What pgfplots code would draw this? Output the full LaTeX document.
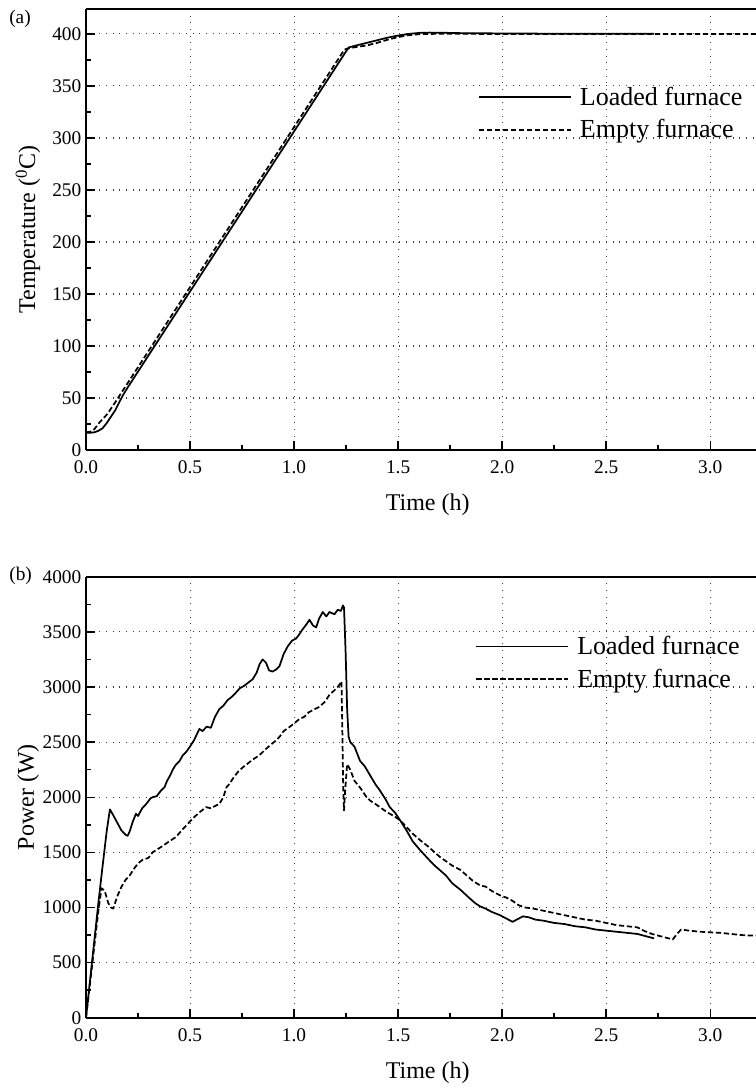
\documentclass[border=0pt]{standalone}
\usepackage{pgfplots}
\pgfplotsset{compat=1.18}
\usepackage{fontspec}
\setmainfont{Liberation Serif}
\begin{document}
\begin{tikzpicture}
\pgfplotsset{
 myax/.style={
  scale only axis, width=502.5pt, height=330.75pt,
  xmin=0, xmax=3.22,
  xtick={0,0.5,1,1.5,2,2.5,3},
  xticklabels={0.0,0.5,1.0,1.5,2.0,2.5,3.0},
  minor x tick num=1, minor y tick num=1,
  tick pos=left, tick align=inside,
  major tick length=6.75pt, minor tick length=3.4pt,
  every tick/.style={black, line width=1.1pt},
  grid=major,
  major grid style={black!75, line width=0.8pt, dash pattern=on 0.8pt off 4.2pt},
  axis y line*=left,
  axis line style={line width=1.3pt, -},
  tick label style={font=\fontsize{14.5}{17}\selectfont},
  xticklabel style={inner ysep=0pt, yshift=-8pt},
  yticklabel style={inner ysep=0pt},
  /pgf/number format/assume math mode=true,
  /pgf/number format/1000 sep={},
  scaled ticks=false,
  legend style={draw=none, fill=none, font=\fontsize{19.5}{24}\selectfont, inner sep=0pt, anchor=west, cells={anchor=west}, row sep=5pt},
  legend image code/.code={\draw[##1] (0pt,0pt) -- (69pt,0pt); \path (73pt,0pt);},
  xlabel={Time (h)},
  every axis x label/.style={at={(axis description cs:0.51,-0.1247)}, anchor=center, font=\fontsize{18}{21}\selectfont},
  every axis y label/.style={at={(axis description cs:-0.0866,0.5)}, anchor=center, rotate=90, font=\fontsize{18}{21}\selectfont},
 },
 solidl/.style={black, mark=none, line width=1.3pt, line join=round},
 dashl/.style={black, mark=none, line width=1.3pt, line join=round, dash pattern=on 4pt off 2pt},
}
\begin{axis}[myax, at={(64.5pt,-337.5pt)}, anchor=south west,
  ymin=0, ymax=424, ytick={0,50,100,150,200,250,300,350,400},
  ylabel={Temperature (\textsuperscript{0}C)},
  legend style={at={(0.585,0.763)}}]
\addplot[solidl] coordinates {(0,16.5)(0.02,16.6)(0.04,17)(0.06,18.5)(0.08,21)(0.10,26)(0.12,32)(0.14,38)(0.16,46)(0.18,53.5)(0.2,60)(1.262,387)(1.30,389)(1.35,391.5)(1.40,394)(1.45,396.5)(1.50,398.5)(1.55,400)(1.60,401)(1.65,401.3)(1.7,401.2)(1.8,400.8)(2.0,400.5)(2.2,400.3)(2.5,400.2)(2.73,400.2)};
\addlegendentry{Loaded furnace}
\addplot[dashl] coordinates {(0,17)(0.02,17.5)(0.04,20)(0.067,27)(0.10,34)(0.131,43)(0.17,55)(1.242,385)(1.27,386.5)(1.30,387.5)(1.35,389)(1.40,391.5)(1.45,394.5)(1.50,397)(1.55,398.8)(1.60,399.8)(1.7,400.2)(2.0,400)(2.5,400)(3.0,400)(3.25,400)};
\addlegendentry{Empty furnace}
\end{axis}
\begin{axis}[myax, at={(64.5pt,-763.3pt)}, anchor=south west,
  ymin=0, ymax=4000, ytick={0,500,1000,1500,2000,2500,3000,3500,4000},
  ylabel={Power (W)},
  legend style={at={(0.581,0.805)}}]
\addplot[solidl] coordinates {(0,0)(0.02,350)(0.04,700)(0.06,1050)(0.08,1380)(0.10,1700)(0.115,1890)(0.13,1840)(0.15,1770)(0.17,1700)(0.19,1660)(0.2,1650)(0.21,1690)(0.225,1780)(0.24,1850)(0.25,1830)(0.27,1900)(0.29,1940)(0.31,1990)(0.32,2000)(0.34,2010)(0.36,2060)(0.377,2090)(0.39,2150)(0.405,2200)(0.417,2250)(0.43,2290)(0.45,2330)(0.465,2380)(0.481,2410)(0.5,2460)(0.52,2520)(0.545,2620)(0.56,2600)(0.58,2640)(0.60,2630)(0.62,2730)(0.641,2800)(0.66,2830)(0.68,2880)(0.70,2910)(0.721,2950)(0.74,2990)(0.76,3010)(0.78,3040)(0.801,3070)(0.82,3130)(0.835,3210)(0.849,3250)(0.865,3220)(0.88,3150)(0.897,3140)(0.915,3160)(0.93,3190)(0.95,3300)(0.97,3370)(0.99,3420)(1.01,3440)(1.026,3480)(1.04,3520)(1.06,3570)(1.074,3610)(1.09,3560)(1.106,3540)(1.12,3620)(1.138,3680)(1.155,3640)(1.17,3680)(1.194,3660)(1.21,3700)(1.225,3690)(1.235,3740)(1.24,3720)(1.248,3300)(1.255,2800)(1.262,2550)(1.27,2500)(1.29,2460)(1.317,2330)(1.34,2280)(1.365,2200)(1.39,2120)(1.413,2060)(1.44,1980)(1.46,1910)(1.485,1860)(1.51,1790)(1.54,1700)(1.57,1600)(1.606,1520)(1.64,1450)(1.67,1390)(1.70,1340)(1.73,1290)(1.76,1220)(1.80,1160)(1.84,1090)(1.87,1040)(1.894,1010)(1.92,990)(1.95,960)(1.99,930)(2.02,900)(2.05,870)(2.08,900)(2.10,920)(2.13,910)(2.16,890)(2.2,880)(2.25,860)(2.3,850)(2.35,830)(2.4,820)(2.45,800)(2.5,790)(2.55,780)(2.6,770)(2.65,760)(2.7,735)(2.73,720)};
\addlegendentry{Loaded furnace}
\addplot[dashl] coordinates {(0,0)(0.02,320)(0.04,650)(0.06,980)(0.075,1175)(0.09,1150)(0.107,1040)(0.12,1000)(0.131,990)(0.15,1100)(0.171,1190)(0.19,1250)(0.21,1290)(0.23,1350)(0.25,1400)(0.27,1430)(0.30,1450)(0.32,1500)(0.345,1530)(0.37,1560)(0.40,1600)(0.433,1640)(0.46,1700)(0.497,1775)(0.52,1820)(0.55,1870)(0.577,1910)(0.60,1900)(0.62,1920)(0.641,1940)(0.66,2000)(0.675,2090)(0.689,2120)(0.71,2180)(0.73,2230)(0.753,2270)(0.78,2310)(0.80,2340)(0.833,2380)(0.86,2430)(0.89,2480)(0.91,2510)(0.929,2545)(0.95,2600)(0.98,2640)(1.0,2670)(1.026,2710)(1.05,2730)(1.07,2770)(1.10,2800)(1.122,2820)(1.15,2870)(1.17,2930)(1.194,2970)(1.21,3000)(1.228,3050)(1.232,2600)(1.236,2100)(1.24,1880)(1.245,2050)(1.255,2300)(1.27,2250)(1.29,2150)(1.32,2080)(1.345,2010)(1.365,1970)(1.39,1940)(1.42,1900)(1.45,1860)(1.48,1830)(1.51,1790)(1.54,1730)(1.57,1670)(1.606,1610)(1.64,1560)(1.67,1510)(1.70,1460)(1.73,1420)(1.76,1380)(1.80,1340)(1.83,1290)(1.86,1240)(1.894,1200)(1.92,1190)(1.95,1150)(1.99,1110)(2.02,1090)(2.05,1060)(2.08,1020)(2.11,1000)(2.15,990)(2.2,970)(2.25,950)(2.3,930)(2.35,910)(2.4,890)(2.45,880)(2.5,860)(2.55,840)(2.6,830)(2.65,820)(2.68,790)(2.72,760)(2.76,740)(2.80,720)(2.82,710)(2.84,760)(2.86,800)(2.9,790)(2.95,780)(3.0,775)(3.05,770)(3.1,760)(3.15,750)(3.2,745)(3.25,745)};
\addlegendentry{Empty furnace}
\end{axis}
\node[font=\fontsize{14.5}{17}\selectfont] at (15pt,-14pt) {(a)};
\node[font=\fontsize{14.5}{17}\selectfont] at (15.5pt,-432pt) {(b)};
\pgfresetboundingbox
\path[use as bounding box] (0,0) rectangle (567pt,-816pt);
\end{tikzpicture}
\end{document}
